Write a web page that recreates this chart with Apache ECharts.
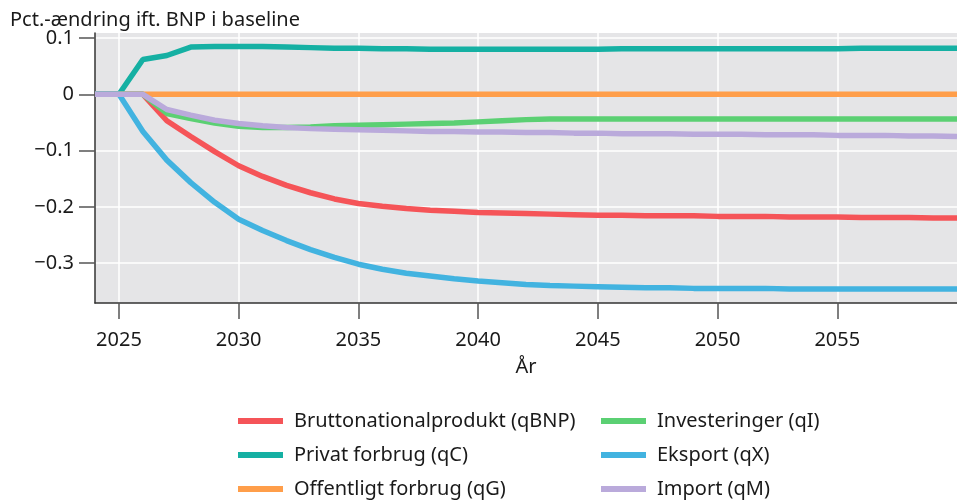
<!DOCTYPE html>
<html>
<head>
    <meta charset="utf-8">
    <title>Pct.-ændring ift. BNP i baseline</title>
    <script src="https://cdn.jsdelivr.net/npm/echarts@6/dist/echarts.min.js"></script>
    <style>
        html, body { margin: 0; padding: 0; background: #fff; }
    </style>
</head>
<body>
    <div id="main" style="width: 957px;height:500px;"></div>
    <script type="text/javascript">
        var myChart = echarts.init(document.getElementById('main'));

        // år 2024-2060
        const years = [2024, 2025, 2026, 2027, 2028, 2029, 2030, 2031, 2032, 2033, 2034, 2035, 2036,
            2037, 2038, 2039, 2040, 2041, 2042, 2043, 2044, 2045, 2046, 2047, 2048, 2049, 2050,
            2051, 2052, 2053, 2054, 2055, 2056, 2057, 2058, 2059, 2060];

        const qBNP = [0, 0, 0, -0.047, -0.075, -0.102, -0.127, -0.146, -0.162, -0.175, -0.186, -0.194, -0.199,
            -0.203, -0.206, -0.208, -0.210, -0.211, -0.212, -0.213, -0.214, -0.215, -0.215, -0.216, -0.216,
            -0.216, -0.217, -0.217, -0.217, -0.218, -0.218, -0.218, -0.219, -0.219, -0.219, -0.220, -0.220];
        const qC = [0, 0, 0.062, 0.069, 0.084, 0.085, 0.085, 0.085, 0.084, 0.083, 0.082, 0.082, 0.081,
            0.081, 0.080, 0.080, 0.080, 0.080, 0.080, 0.080, 0.080, 0.080, 0.081, 0.081, 0.081,
            0.081, 0.081, 0.081, 0.081, 0.081, 0.081, 0.081, 0.082, 0.082, 0.082, 0.082, 0.082];
        const qG = [0, 0, 0, 0, 0, 0, 0, 0, 0, 0, 0, 0, 0,
            0, 0, 0, 0, 0, 0, 0, 0, 0, 0, 0, 0,
            0, 0, 0, 0, 0, 0, 0, 0, 0, 0, 0, 0];
        const qI = [0, 0, 0, -0.034, -0.043, -0.051, -0.057, -0.059, -0.059, -0.058, -0.056, -0.055, -0.054,
            -0.053, -0.052, -0.051, -0.049, -0.047, -0.045, -0.044, -0.044, -0.044, -0.044, -0.044, -0.044,
            -0.044, -0.044, -0.044, -0.044, -0.044, -0.044, -0.044, -0.044, -0.044, -0.044, -0.044, -0.044];
        const qX = [0, 0, -0.066, -0.117, -0.157, -0.192, -0.222, -0.242, -0.260, -0.276, -0.290, -0.302, -0.311,
            -0.318, -0.323, -0.328, -0.332, -0.335, -0.338, -0.340, -0.341, -0.342, -0.343, -0.344, -0.344,
            -0.345, -0.345, -0.345, -0.345, -0.346, -0.346, -0.346, -0.346, -0.346, -0.346, -0.346, -0.346];
        const qM = [0, 0, 0, -0.027, -0.037, -0.046, -0.052, -0.056, -0.059, -0.061, -0.062, -0.063, -0.064,
            -0.065, -0.066, -0.066, -0.067, -0.067, -0.068, -0.068, -0.069, -0.069, -0.070, -0.070, -0.070,
            -0.071, -0.071, -0.071, -0.072, -0.072, -0.072, -0.073, -0.073, -0.073, -0.074, -0.074, -0.075];

        const xTicks = [2025, 2030, 2035, 2040, 2045, 2050, 2055];
        const yTicks = [-0.3, -0.2, -0.1, 0, 0.1];

        const names = ['Bruttonationalprodukt (qBNP)', 'Privat forbrug (qC)', 'Offentligt forbrug (qG)',
            'Investeringer (qI)', 'Eksport (qX)', 'Import (qM)'];
        const colors = ['#f55458', '#15b0a3', '#ff9e4a', '#5bd073', '#42b3e0', '#baaadb'];
        const values = [qBNP, qC, qG, qI, qX, qM];

        const font = 'Noto Sans';

        const series = names.map((name, i) => ({
            name: name,
            type: 'line',
            data: years.map((y, j) => [y, values[i][j]]),
            showSymbol: false,
            symbol: 'none',
            lineStyle: { width: 5.5, color: colors[i] },
            itemStyle: { color: colors[i] },
            emphasis: { disabled: true },
            z: 2 + i
        }));

        const legendBase = {
            orient: 'vertical',
            top: 411,
            height: 95,
            padding: 0,
            itemWidth: 45,
            itemHeight: 6,
            itemGap: 14,
            icon: 'rect',
            textStyle: { fontFamily: font, fontSize: 20, color: '#1a1a1a', lineHeight: 20, padding: [0, 0, 0, 6] }
        };

        var option = {
            animation: false,
            textStyle: { fontFamily: font },
            title: {
                text: 'Pct.-ændring ift. BNP i baseline',
                left: 5,
                top: 5,
                textStyle: { fontFamily: font, fontSize: 20, fontWeight: 'normal', color: '#1a1a1a' }
            },
            legend: [
                Object.assign({}, legendBase, { left: 238, data: names.slice(0, 3) }),
                Object.assign({}, legendBase, { left: 601, data: names.slice(3, 6) })
            ],
            grid: {
                left: 95,
                top: 33,
                width: 868,
                height: 270,
                show: true,
                backgroundColor: '#e5e5e7',
                borderWidth: 0
            },
            xAxis: {
                type: 'value',
                min: 2024,
                max: 2060,
                name: 'År',
                nameLocation: 'middle',
                nameGap: 54,
                nameTextStyle: { fontFamily: font, fontSize: 20, color: '#1a1a1a' },
                axisLine: { show: true, onZero: false, lineStyle: { color: '#333', width: 1.5 } },
                axisTick: { show: true, length: 16, customValues: xTicks, lineStyle: { color: '#555', width: 1.5 } },
                axisLabel: {
                    customValues: xTicks,
                    margin: 27,
                    fontFamily: font, fontSize: 20, color: '#1a1a1a',
                    formatter: v => String(v)
                },
                splitLine: { show: true, lineStyle: { color: '#fff', width: 1.5 } }
            },
            yAxis: {
                type: 'value',
                min: -0.371,
                max: 0.109,
                axisLine: { show: true, onZero: false, lineStyle: { color: '#333', width: 1.5 } },
                axisTick: { show: true, length: 16, customValues: yTicks, lineStyle: { color: '#555', width: 1.5 } },
                axisLabel: {
                    customValues: yTicks,
                    margin: 21,
                    fontFamily: font, fontSize: 20, color: '#1a1a1a',
                    formatter: v => String(Math.round(v * 10) / 10).replace('-', '\u2212')
                },
                splitLine: { show: true, lineStyle: { color: '#fff', width: 1.5 } }
            },
            series: series
        };

        myChart.setOption(option);
    </script>
</body>
</html>
